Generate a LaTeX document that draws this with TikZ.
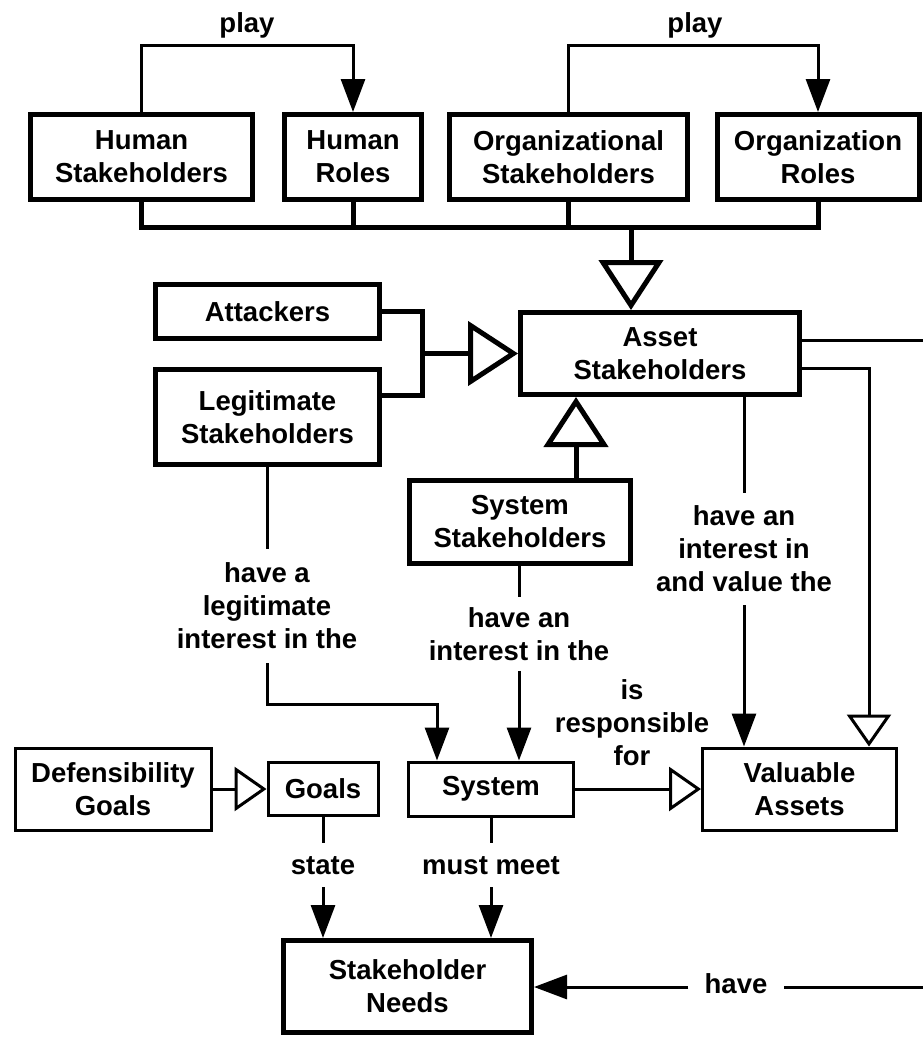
\documentclass[tikz,border=0pt]{standalone}
\usepackage{fontspec}
\setmainfont{Liberation Sans}
\usetikzlibrary{arrows.meta}

\tikzset{
  every node/.style={font=\fontsize{27.5}{33}\selectfont\bfseries, inner sep=0pt, align=center},
  thickbox/.style={draw, line width=5pt, rectangle},
  thinbox/.style={draw, line width=3pt, rectangle},
  conn/.style={line width=3pt},
  bus/.style={line width=5pt},
  filltip/.style={-{Triangle[length=33pt,width=24pt]}},
  bigopen/.style={-{Triangle[open,length=50pt,width=64pt]}},
  smallopen/.style={-{Triangle[open,length=32pt,width=44pt]}},
  lbl/.style={inner xsep=4pt},
}

\begin{document}
\begin{tikzpicture}[x=1pt,y=-1pt]
\useasboundingbox (0,0) rectangle (923,1037);

% top row
\node[thickbox, minimum width=222pt, minimum height=85pt] (HS) at (141.5,157) {Human\\Stakeholders};
\node[thickbox, minimum width=137pt, minimum height=85pt] (HR) at (353,157) {Human\\Roles};
\node[thickbox, minimum width=238pt, minimum height=85pt] (OS) at (568.5,157) {Organizational\\Stakeholders};
\node[thickbox, minimum width=202pt, minimum height=85pt] (OR) at (818,157) {Organization\\Roles};

% middle
\node[thickbox, minimum width=224pt, minimum height=54pt] (Att) at (267.5,311.5) {Attackers};
\node[thickbox, minimum width=224pt, minimum height=95pt] (Leg) at (267.5,417) {Legitimate\\Stakeholders};
\node[thickbox, minimum width=279pt, minimum height=82pt] (Asset) at (660,353.5) {Asset\\Stakeholders};
\node[thickbox, minimum width=221pt, minimum height=83pt] (SysSt) at (520,522) {System\\Stakeholders};

% bottom row
\node[thinbox, minimum width=196pt, minimum height=82pt] (Def) at (113,789) {Defensibility\\Goals};
\node[thinbox, minimum width=110pt, minimum height=53pt] (Goals) at (323,789) {Goals};
\node[thinbox, minimum width=165pt, minimum height=54pt] (Sys) at (491,789) {System};
\node[thinbox, minimum width=194pt, minimum height=82pt] (Val) at (799.5,789) {Valuable\\Assets};
\node[thickbox, minimum width=248pt, minimum height=92pt] (Needs) at (407.5,986.5) {Stakeholder\\Needs};

% labels
\node[anchor=base] (play1) at (247,32) {play};
\node[anchor=base] (play2) at (695,32) {play};
\node[lbl, inner ysep=14pt] (labLeg) at (267,606) {have a\\legitimate\\interest in the};
\node[lbl, inner ysep=10pt] (labSys) at (519,634) {have an\\interest in the};
\node[lbl, inner ysep=13pt] (labAsset) at (744,549) {have an\\interest in\\and value the};
\node (labResp) at (632,723) {is\\responsible\\for};
\node[lbl, inner ysep=13pt, text height=18pt, text depth=0pt] (labState) at (323,865) {state};
\node[lbl, inner ysep=13pt, text height=18pt, text depth=0pt] (labMust) at (491,865) {must meet};
\node[inner xsep=16pt, text height=12pt, text depth=0pt] (labHave) at (736,987) {have};

% free ends at the right margin and junctions
\coordinate (edgeA) at (923,340);
\coordinate (edgeH) at (923,987);
\coordinate (busdrop) at (631,227);
\coordinate (join) at (422,353.5);

% play
\draw[conn, filltip] (HS.north) -- (HS.north |- 0,45) -| (HR.north);
\draw[conn, filltip] (OS.north) -- (OS.north |- 0,45) -| (OR.north);

% stakeholder bus
\draw[bus] (HS.south) -- (HS.south |- busdrop) -- (OR.south |- busdrop) -- (OR.south);
\draw[bus] (HR.south) -- (HR.south |- busdrop);
\draw[bus] (OS.south) -- (OS.south |- busdrop);
\draw[bus, bigopen] (busdrop) -- (Asset.north -| busdrop);

% attackers and legitimate
\draw[bus] (Att.east) -| (join |- 0,395) -- (Leg.east |- 0,395);
\draw[bus, bigopen] (join) -- (Asset.west);

% system stakeholders
\draw[bus, bigopen] (SysSt.north -| 576,0) -- (Asset.south -| 576,0);

% interests
\draw[conn] (Leg.south -| labLeg.north) -- (labLeg.north);
\draw[conn, filltip] (labLeg.south) -- (labLeg.south |- 0,704) -| (Sys.north -| 437,0);
\draw[conn] (SysSt.south -| labSys.north) -- (labSys.north);
\draw[conn, filltip] (labSys.south) -- (Sys.north -| labSys.south);
\draw[conn] (Asset.south -| labAsset.north) -- (labAsset.north);
\draw[conn, filltip] (labAsset.south) -- (Val.north -| labAsset.south);

% asset stakeholders to the right
\draw[conn] (Asset.east |- edgeA) -- (edgeA);
\draw[conn, smallopen] (Asset.east |- 0,368) -| (Val.north -| 869,0);

% bottom row
\draw[conn, smallopen] (Def.east) -- (Goals.west);
\draw[conn, smallopen] (Sys.east) -- (Val.west);
\draw[conn] (Goals.south) -- (labState.north);
\draw[conn, filltip] (labState.south) -- (Needs.north -| labState.south);
\draw[conn] (Sys.south) -- (labMust.north);
\draw[conn, filltip] (labMust.south) -- (Needs.north -| labMust.south);
\draw[conn] (edgeH) -- (labHave.east);
\draw[conn, filltip] (labHave.west) -- (Needs.east |- labHave.west);
\end{tikzpicture}
\end{document}
